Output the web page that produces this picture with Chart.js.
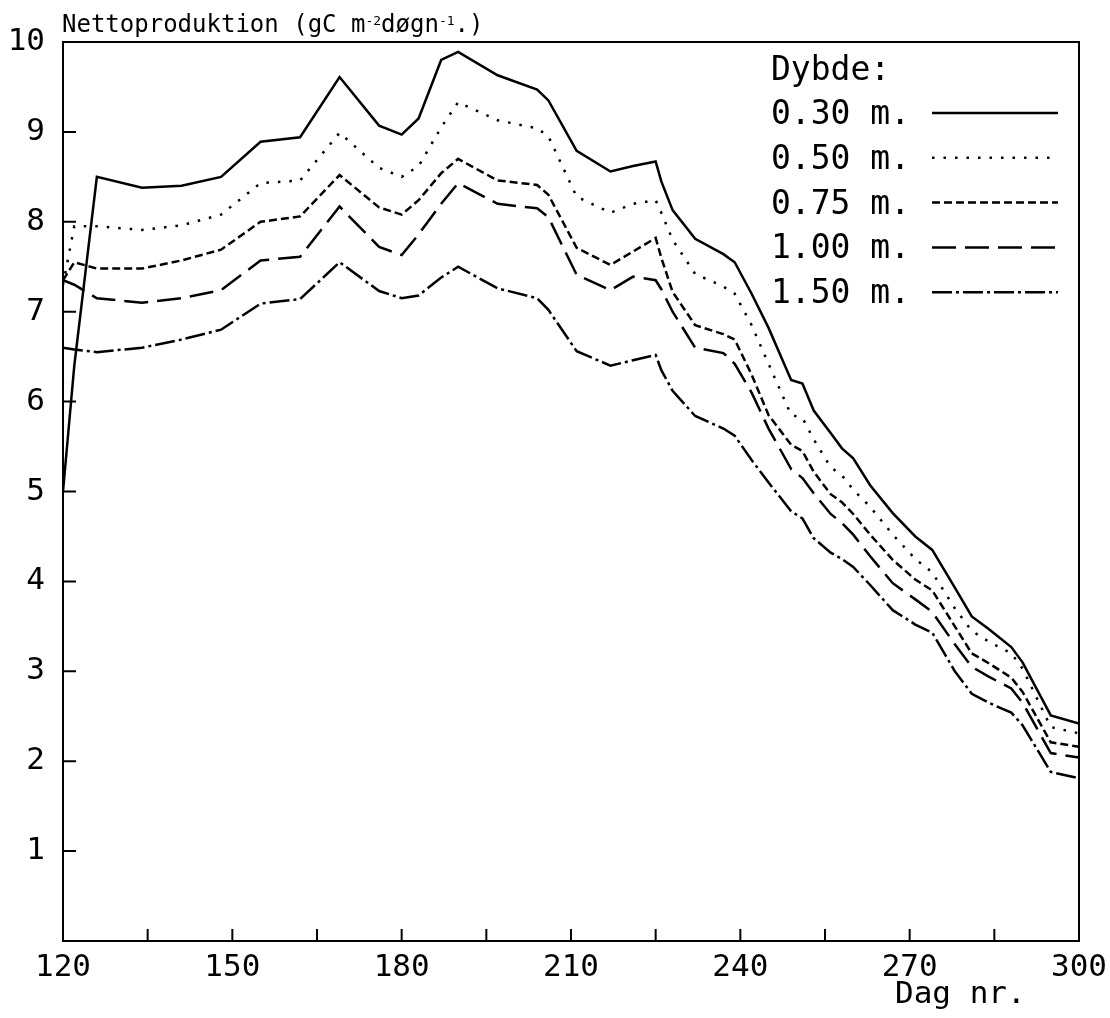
<!DOCTYPE html>
<html>
<head>
<meta charset="utf-8">
<script src="https://cdn.jsdelivr.net/npm/chart.js@4.4.1/dist/chart.umd.min.js"></script>
<style>
  html, body { margin: 0; padding: 0; background: #fff; }
  #chart { display: block; }
</style>
</head>
<body>
<canvas id="chart" width="1110" height="1018"></canvas>
<script>
// day numbers (x) shared by all depth series
const days = [120, 122, 126, 134, 141, 148, 155, 162, 169, 176, 180, 183, 187, 190, 197, 204, 206, 211, 217, 221,
  225, 226, 228, 232, 237, 239, 242, 245, 249, 251, 253, 256, 258, 260, 263, 267, 271, 274, 278, 281, 284, 288, 290, 295, 300];

const depthLabels = ['0.30 m.', '0.50 m.', '0.75 m.', '1.00 m.', '1.50 m.'];

// net production, gC m-2 day-1
const prod030 = [5.0, 6.4, 8.5, 8.38, 8.4, 8.5, 8.89, 8.94, 9.61, 9.07, 8.97, 9.15, 9.8, 9.89, 9.63, 9.47, 9.35, 8.79, 8.56, 8.62,
  8.67, 8.45, 8.13, 7.81, 7.64, 7.55, 7.2, 6.82, 6.24, 6.2, 5.9, 5.65, 5.48, 5.37, 5.07, 4.76, 4.5, 4.35, 3.93, 3.61, 3.47, 3.27, 3.1, 2.51, 2.42];
const prod050 = [7.3, 7.95, 7.95, 7.91, 7.96, 8.08, 8.43, 8.46, 8.99, 8.6, 8.5, 8.62, 9.05, 9.33, 9.13, 9.04, 8.95, 8.28, 8.1, 8.2,
  8.24, 8.1, 7.8, 7.42, 7.28, 7.2, 6.85, 6.42, 5.85, 5.82, 5.58, 5.27, 5.18, 5.02, 4.83, 4.52, 4.25, 4.1, 3.7, 3.45, 3.33, 3.2, 3.03, 2.38, 2.31];
const prod075 = [7.35, 7.55, 7.48, 7.48, 7.57, 7.69, 8.0, 8.06, 8.52, 8.16, 8.08, 8.24, 8.54, 8.7, 8.46, 8.41, 8.3, 7.71, 7.52, 7.67,
  7.82, 7.6, 7.22, 6.85, 6.75, 6.69, 6.3, 5.85, 5.52, 5.45, 5.22, 4.97, 4.88, 4.75, 4.52, 4.24, 4.02, 3.9, 3.5, 3.2, 3.09, 2.93, 2.77, 2.21, 2.16];
const prod100 = [7.35, 7.3, 7.15, 7.1, 7.15, 7.24, 7.57, 7.61, 8.17, 7.72, 7.63, 7.86, 8.2, 8.43, 8.2, 8.15, 8.05, 7.41, 7.24, 7.39,
  7.35, 7.25, 7.0, 6.6, 6.54, 6.42, 6.1, 5.7, 5.25, 5.15, 4.98, 4.75, 4.65, 4.52, 4.28, 3.98, 3.8, 3.66, 3.3, 3.05, 2.94, 2.81, 2.65, 2.09, 2.04];
const prod150 = [6.6, 6.58, 6.55, 6.6, 6.69, 6.8, 7.09, 7.14, 7.55, 7.23, 7.15, 7.18, 7.38, 7.5, 7.26, 7.15, 7.02, 6.56, 6.4, 6.46,
  6.52, 6.35, 6.12, 5.84, 5.7, 5.62, 5.35, 5.1, 4.78, 4.7, 4.48, 4.32, 4.25, 4.16, 3.96, 3.68, 3.52, 3.43, 3.0, 2.75, 2.65, 2.54, 2.4, 1.88, 1.81];

const series = [prod030, prod050, prod075, prod100, prod150];
const dashes = [[], [2.5, 9], [8, 4], [24, 9], [20, 4, 3, 4]];

const FONT = '"DejaVu Sans Mono", "Liberation Mono", monospace';

// frame, inward tick marks, title with superscripts, legend, x label
const paperPlugin = {
  id: 'paper',
  afterDraw(chart) {
    const { ctx, chartArea: a, scales } = chart;
    ctx.save();
    ctx.strokeStyle = '#000';
    ctx.fillStyle = '#000';
    ctx.lineWidth = 2;
    ctx.setLineDash([]);
    ctx.strokeRect(a.left, a.top, a.right - a.left, a.bottom - a.top);

    ctx.beginPath();
    scales.x.ticks.forEach(t => {
      const px = scales.x.getPixelForValue(t.value);
      ctx.moveTo(px, a.bottom);
      ctx.lineTo(px, a.bottom - 12);
    });
    scales.y.ticks.forEach(t => {
      const py = scales.y.getPixelForValue(t.value);
      ctx.moveTo(a.left, py);
      ctx.lineTo(a.left + 13, py);
    });
    ctx.stroke();

    // title
    ctx.textBaseline = 'alphabetic';
    ctx.textAlign = 'left';
    const big = '24px ' + FONT, small = '13px ' + FONT;
    let x = 62;
    const parts = [['Nettoproduktion (gC m', big, 32], ['-2', small, 25], ['døgn', big, 32], ['-1', small, 25], ['.)', big, 32]];
    parts.forEach(([txt, f, y]) => {
      ctx.font = f;
      ctx.fillText(txt, x, y);
      x += ctx.measureText(txt).width;
    });

    // legend
    ctx.font = '33px ' + FONT;
    ctx.fillText('Dybde:', 771, 80);
    chart.data.datasets.forEach((ds, i) => {
      const base = 124 + i * 44.8;
      ctx.fillText(ds.label, 771, base);
      ctx.lineWidth = 2.5;
      ctx.setLineDash(ds.borderDash);
      ctx.beginPath();
      ctx.moveTo(932, base - 11);
      ctx.lineTo(1058, base - 11);
      ctx.stroke();
    });
    ctx.setLineDash([]);

    // x axis label
    ctx.font = '31px ' + FONT;
    ctx.fillText('Dag nr.', 895, 1003);
    ctx.restore();
  }
};

new Chart(document.getElementById('chart'), {
  type: 'line',
  data: {
    datasets: series.map((vals, i) => ({
      label: depthLabels[i],
      data: vals.map((v, j) => ({ x: days[j], y: v })),
      borderColor: '#000',
      borderWidth: 2.5,
      borderDash: dashes[i],
      pointRadius: 0,
      tension: 0,
      fill: false
    }))
  },
  options: {
    responsive: false,
    animation: false,
    devicePixelRatio: 1,
    layout: { padding: { top: 42, right: 31, left: 0, bottom: 0 } },
    plugins: { legend: { display: false }, tooltip: { enabled: false } },
    scales: {
      x: {
        type: 'linear',
        min: 120,
        max: 300,
        afterFit: s => { s.height = 77; s.paddingLeft = 0; s.paddingRight = 0; },
        grid: { display: false, drawTicks: false },
        border: { display: false },
        ticks: {
          stepSize: 15,
          autoSkip: false,
          maxRotation: 0,
          padding: 8,
          color: '#000',
          font: { family: FONT, size: 31 },
          callback: v => (v % 30 === 0 ? v : '')
        }
      },
      y: {
        min: 0,
        max: 10,
        afterFit: s => { s.width = 63; },
        grid: { display: false, drawTicks: false },
        border: { display: false },
        ticks: {
          stepSize: 1,
          padding: 18,
          color: '#000',
          font: { family: FONT, size: 31 },
          callback: v => (v === 0 ? '' : v)
        }
      }
    }
  },
  plugins: [paperPlugin]
});
</script>
</body>
</html>
